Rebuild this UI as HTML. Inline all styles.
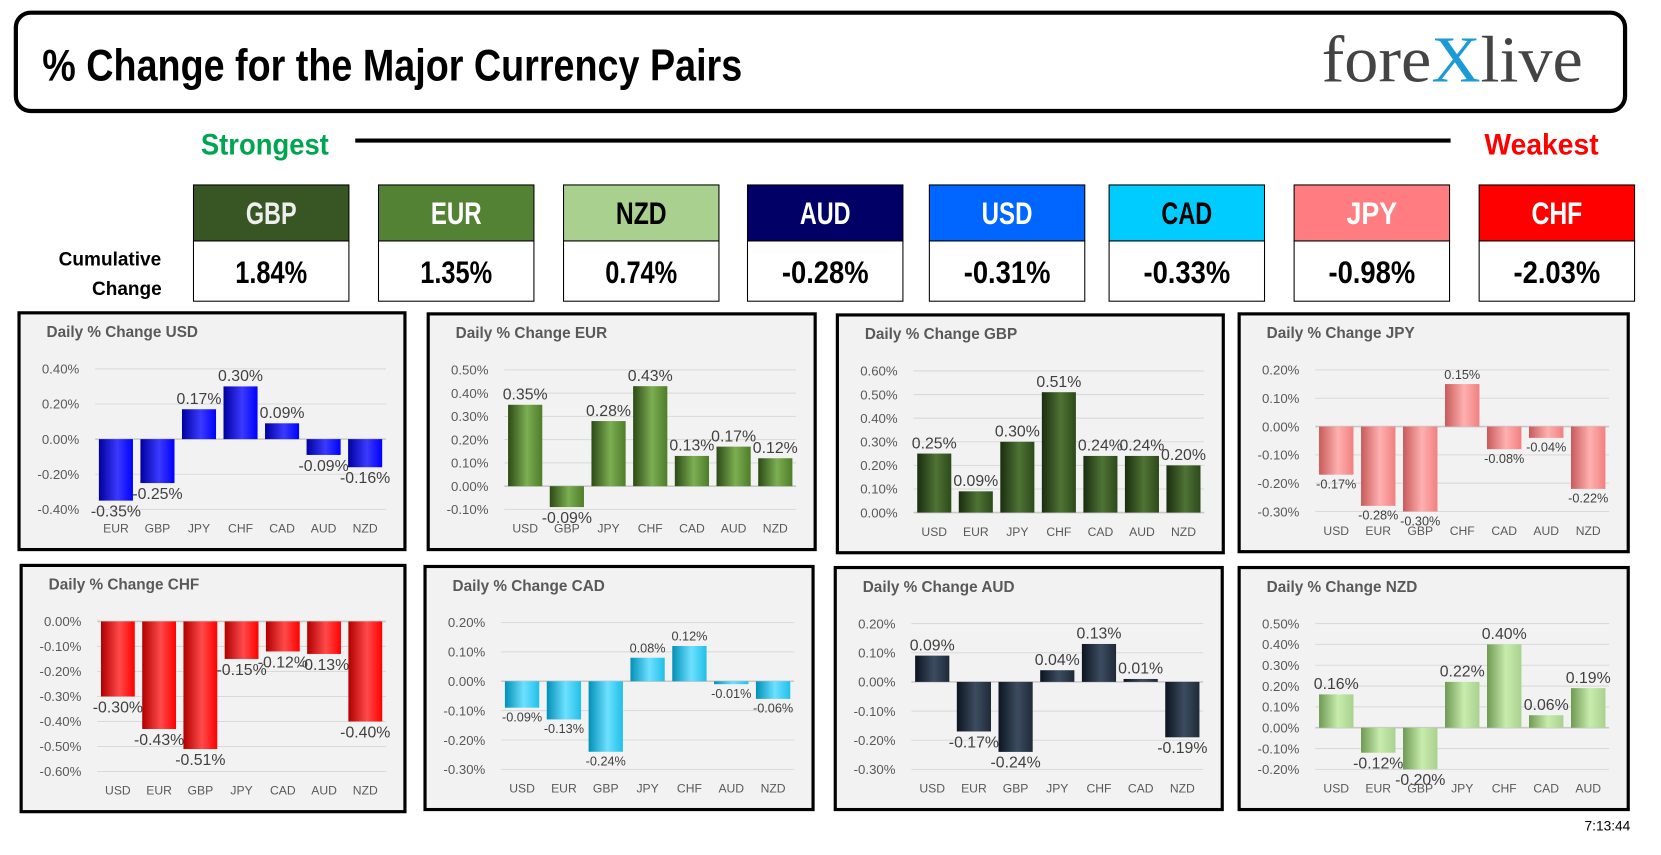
<!DOCTYPE html>
<html><head><meta charset="utf-8"><style>
html,body{margin:0;padding:0;background:#fff;}
svg{display:block;}
text{font-family:"Liberation Sans",sans-serif;}
</style></head><body>
<svg id="root" width="1661" height="855" viewBox="0 0 1571 809" preserveAspectRatio="none" xmlns="http://www.w3.org/2000/svg">
<rect width="1571" height="809" fill="#fff"/>
<g>
<rect x="15" y="12" width="1522" height="93" rx="14" fill="#fff" stroke="#000" stroke-width="4"/>
<text x="40" y="76" font-size="42" font-weight="bold" textLength="662" lengthAdjust="spacingAndGlyphs">% Change for the Major Currency Pairs</text>
<g>
<text x="1250" y="77" font-size="62" fill="#444" textLength="247" lengthAdjust="spacingAndGlyphs" style="font-family:'Liberation Serif',serif">fore<tspan fill="#1a9ad6">X</tspan>live</text>
</g>
</g>
<text x="190" y="146" font-size="28" font-weight="bold" fill="#00a550" textLength="121" lengthAdjust="spacingAndGlyphs">Strongest</text>
<line x1="336" y1="133" x2="1372" y2="133" stroke="#000" stroke-width="4"/>
<text x="1404" y="146" font-size="28" font-weight="bold" fill="#f00" textLength="108" lengthAdjust="spacingAndGlyphs">Weakest</text>
<text font-size="18" font-weight="bold" text-anchor="middle"><tspan x="104" y="251" textLength="97" lengthAdjust="spacingAndGlyphs">Cumulative</tspan><tspan x="120" y="279" textLength="66" lengthAdjust="spacingAndGlyphs">Change</tspan></text>
<g id="boxes"></g>
<g id="charts"></g>
<text x="1542" y="786" font-size="13" text-anchor="end">7:13:44</text>
</svg>
<script>
const NS="http://www.w3.org/2000/svg";
function mk(tag,attrs,parent){const e=document.createElementNS(NS,tag);for(const k in attrs)e.setAttribute(k,attrs[k]);parent.appendChild(e);return e;}

// Cumulative strength data
const boxCurrencies=["GBP","EUR","NZD","AUD","USD","CAD","JPY","CHF"];
const boxValues=["1.84%","1.35%","0.74%","-0.28%","-0.31%","-0.33%","-0.98%","-2.03%"];
const boxFill=["#375623","#548235","#a9d08e","#000066","#0066ff","#00ccff","#ff7c80","#ff0000"];
const boxText=["#eee","#fff","#000","#fff","#fff","#000","#fff","#fff"];
const boxX=[183,358,533,707,879,1049,1224,1399];
const boxes=document.getElementById('boxes');
boxCurrencies.forEach((c,i)=>{
  const g=mk('g',{},boxes);
  
  
  const x=boxX[i],w=147;
  mk('rect',{x:x,y:175,width:w,height:53,fill:boxFill[i],stroke:'#000','stroke-width':1},g);
  mk('rect',{x:x,y:228,width:w,height:57,fill:'#fff',stroke:'#000','stroke-width':1},g);
  const t=mk('text',{x:x+w/2,y:212,'font-size':30,'font-weight':'bold','text-anchor':'middle',fill:boxText[i],textLength:c.length*16,lengthAdjust:'spacingAndGlyphs'},g);t.textContent=c;
  const v=mk('text',{x:x+w/2,y:268,'font-size':30,'font-weight':'bold','text-anchor':'middle',fill:'#000',textLength:boxValues[i].length*14-2,lengthAdjust:'spacingAndGlyphs'},g);v.textContent=boxValues[i];
});

// Chart data arrays
const usdCats=["EUR","GBP","JPY","CHF","CAD","AUD","NZD"];
const usdVals=[-0.35,-0.25,0.17,0.30,0.09,-0.09,-0.16];
const usdTicks=[-0.4,-0.2,0,0.2,0.4];
const eurCats=["USD","GBP","JPY","CHF","CAD","AUD","NZD"];
const eurVals=[0.35,-0.09,0.28,0.43,0.13,0.17,0.12];
const eurTicks=[-0.1,0,0.1,0.2,0.3,0.4,0.5];
const gbpCats=["USD","EUR","JPY","CHF","CAD","AUD","NZD"];
const gbpVals=[0.25,0.09,0.30,0.51,0.24,0.24,0.20];
const gbpTicks=[0,0.1,0.2,0.3,0.4,0.5,0.6];
const jpyCats=["USD","EUR","GBP","CHF","CAD","AUD","NZD"];
const jpyVals=[-0.17,-0.28,-0.30,0.15,-0.08,-0.04,-0.22];
const jpyTicks=[-0.3,-0.2,-0.1,0,0.1,0.2];
const chfCats=["USD","EUR","GBP","JPY","CAD","AUD","NZD"];
const chfVals=[-0.30,-0.43,-0.51,-0.15,-0.12,-0.13,-0.40];
const chfTicks=[-0.6,-0.5,-0.4,-0.3,-0.2,-0.1,0];
const cadCats=["USD","EUR","GBP","JPY","CHF","AUD","NZD"];
const cadVals=[-0.09,-0.13,-0.24,0.08,0.12,-0.01,-0.06];
const cadTicks=[-0.3,-0.2,-0.1,0,0.1,0.2];
const audCats=["USD","EUR","GBP","JPY","CHF","CAD","NZD"];
const audVals=[0.09,-0.17,-0.24,0.04,0.13,0.01,-0.19];
const audTicks=[-0.3,-0.2,-0.1,0,0.1,0.2];
const nzdCats=["USD","EUR","GBP","JPY","CHF","CAD","AUD"];
const nzdVals=[0.16,-0.12,-0.20,0.22,0.40,0.06,0.19];
const nzdTicks=[-0.2,-0.1,0,0.1,0.2,0.3,0.4,0.5];

const charts=[
 {id:'usd',title:'Daily % Change USD',cats:usdCats,vals:usdVals,ticks:usdTicks,color:'#0000ff',light:'#3a3aff',dark:'#0000a0',box:[18,296,365,224],lf:14},
 {id:'eur',title:'Daily % Change EUR',cats:eurCats,vals:eurVals,ticks:eurTicks,color:'#4e7d2a',light:'#7cae52',dark:'#2c4a16',box:[405,297,366,223],lf:14},
 {id:'gbp',title:'Daily % Change GBP',cats:gbpCats,vals:gbpVals,ticks:gbpTicks,color:'#2d4a1b',light:'#4f7335',dark:'#1a2d0e',box:[792,298,365,225],lf:14},
 {id:'jpy',title:'Daily % Change JPY',cats:jpyCats,vals:jpyVals,ticks:jpyTicks,color:'#f08080',light:'#ffb0b0',dark:'#c85a5a',box:[1172,297,368,225],lf:11},
 {id:'chf',title:'Daily % Change CHF',cats:chfCats,vals:chfVals,ticks:chfTicks,color:'#ff0000',light:'#ff4a4a',dark:'#b00000',box:[20,535,363,233],lf:14},
 {id:'cad',title:'Daily % Change CAD',cats:cadCats,vals:cadVals,ticks:cadTicks,color:'#20c0e8',light:'#6ee0ff',dark:'#0090b8',box:[402,536,367,230],lf:11},
 {id:'aud',title:'Daily % Change AUD',cats:audCats,vals:audVals,ticks:audTicks,color:'#1f2a38',light:'#3c4c60',dark:'#0c1420',box:[790,537,366,229],lf:14},
 {id:'nzd',title:'Daily % Change NZD',cats:nzdCats,vals:nzdVals,ticks:nzdTicks,color:'#a9d18e',light:'#c8ecad',dark:'#6e9a52',box:[1172,537,368,229],lf:14}
];
const root=document.getElementById('charts');
const defs=mk('defs',{},root);
charts.forEach(ch=>{
  const [x,y,w,h]=ch.box;
  const gid='grad-'+ch.id;
  const lg=mk('linearGradient',{id:gid,x1:0,y1:0,x2:1,y2:0},defs);
  mk('stop',{offset:'0','stop-color':ch.dark},lg);
  mk('stop',{offset:'0.55','stop-color':ch.light},lg);
  mk('stop',{offset:'1','stop-color':ch.color},lg);
  const g=mk('g',{},root);
  
  
  mk('rect',{x:x,y:y,width:w,height:h,fill:'#f2f2f2',stroke:'#000','stroke-width':3},g);
  const tt=mk('text',{x:x+26,y:y+23,'font-size':14.5,'font-weight':'bold',fill:'#595959'},g);
  
  
  tt.textContent=ch.title;
  const pl=x+72,pr=x+w-18,pt=y+53,pb=y+h-38;
  const tmin=ch.ticks[0],tmax=ch.ticks[ch.ticks.length-1];
  const sy=v=>pt+(tmax-v)/(tmax-tmin)*(pb-pt);
  ch.ticks.forEach(t=>{
    const yy=sy(t);
    const gl=mk('line',{x1:pl,y1:yy,x2:pr,y2:yy,stroke:t===0?'#c8c8c8':'#d9d9d9','stroke-width':t===0?1.5:1},g);
    
    
    const lb=mk('text',{x:x+57,y:yy+4.5,'font-size':12.5,fill:'#595959','text-anchor':'end'},g);
    
    
    lb.textContent=t.toFixed(2)+'%';
  });
  const n=ch.cats.length,slot=(pr-pl)/n,bw=slot*0.82;
  ch.cats.forEach((c,i)=>{
    const cx=pl+slot*(i+0.5),v=ch.vals[i];
    const y0=sy(0),y1=sy(v);
    const bar=mk('rect',{x:cx-bw/2,y:Math.min(y0,y1),width:bw,height:Math.max(1,Math.abs(y1-y0)),fill:'url(#'+gid+')'},g);
    
    
    const vl=mk('text',{x:cx,y:v>=0?y1-5:y1+(ch.lf>12?15:13),'font-size':ch.lf+1,fill:'#404040','text-anchor':'middle'},g);
    
    
    vl.textContent=v.toFixed(2)+'%';
    const cl=mk('text',{x:cx,y:y+h-16,'font-size':11.5,fill:'#595959','text-anchor':'middle'},g);
    
    
    cl.textContent=c;
  });
});
</script>
</body></html>
